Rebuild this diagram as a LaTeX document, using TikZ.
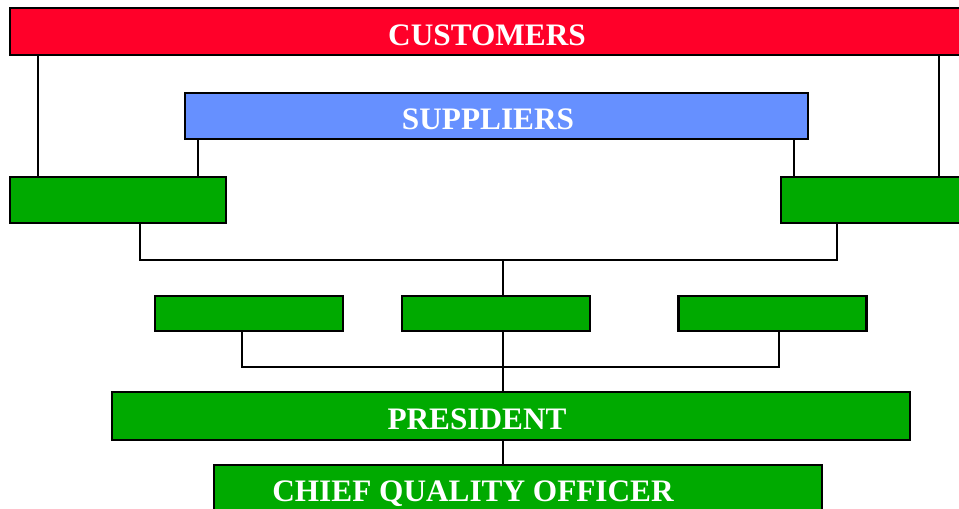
\documentclass[tikz,border=0pt]{standalone}
\usepackage{fontspec}
\setmainfont{Liberation Serif}
\definecolor{custred}{RGB}{255,0,41}
\definecolor{supblue}{RGB}{102,144,255}
\definecolor{orggreen}{RGB}{0,170,0}
\tikzset{
  bar/.style={draw=black, line width=1.3pt, inner sep=0pt, fill=#1},
  lbl/.style={text=white, inner sep=0pt, font=\bfseries\fontsize{17.8}{20}\selectfont},
  wire/.style={line width=1.2pt, line cap=rect}
}
\begin{document}
\begin{tikzpicture}[x=0.02cm, y=-0.02cm]
\useasboundingbox (0,0) rectangle (959,508);
\clip (0,0) rectangle (959,508);

\node[bar=custred, minimum width=19.08cm, minimum height=0.94cm] (cust) at (487,31.5) {};
\node[bar=supblue, minimum width=12.46cm, minimum height=0.92cm] (sup) at (496.5,116) {};
\node[bar=orggreen, minimum width=4.32cm, minimum height=0.92cm] (lbox) at (118,200) {};
\node[bar=orggreen, minimum width=4.32cm, minimum height=0.92cm] (rbox) at (889,200) {};

\foreach \n/\x in {m1/249, m2/496, m3/772.5}
{
    \node[bar=orggreen, minimum width=3.76cm, minimum height=0.7cm] (\n) at (\x,313.5) {};
}

\node[bar=orggreen, minimum width=15.96cm, minimum height=0.96cm] (pres) at (511,416) {};
\node[bar=orggreen, minimum width=12.16cm, minimum height=0.96cm] (cqo) at (518,489) {};

\node[lbl] (custtxt) at (487,35) {CUSTOMERS};
\node[lbl] (suptxt) at (488,119) {SUPPLIERS};
\node[lbl] (prestxt) at (477,419) {PRESIDENT};
\node[lbl] (cqotxt) at (473,493.5) {CHIEF QUALITY OFFICER};

\coordinate (cL) at (38,0);
\coordinate (cR) at (939,0);
\coordinate (sL) at (198,0);
\coordinate (sR) at (794,0);
\coordinate (bL) at (140,0);
\coordinate (bR) at (837,0);
\coordinate (mid) at (503,0);
\coordinate (bus) at (0,260);
\coordinate (bus2) at (0,367);
\coordinate (dL) at (242,0);
\coordinate (dR) at (779,0);

\draw[wire] (cL |- cust.south) -- (cL |- lbox.north);
\draw[wire] (cR |- cust.south) -- (cR |- rbox.north);
\draw[wire] (sL |- sup.south) -- (sL |- lbox.north);
\draw[wire] (sR |- sup.south) -- (sR |- rbox.north);

\draw[wire] (bL |- lbox.south) -- (bL |- bus) -- (bR |- bus) -- (bR |- rbox.south);
\draw[wire] (mid |- bus) -- (mid |- m2.north);
\draw[wire] (dL |- m1.south) -- (dL |- bus2) -- (dR |- bus2) -- (dR |- m3.south);
\draw[wire] (mid |- m2.south) -- (mid |- pres.north);
\draw[wire] (mid |- pres.south) -- (mid |- cqo.north);

\end{tikzpicture}
\end{document}
